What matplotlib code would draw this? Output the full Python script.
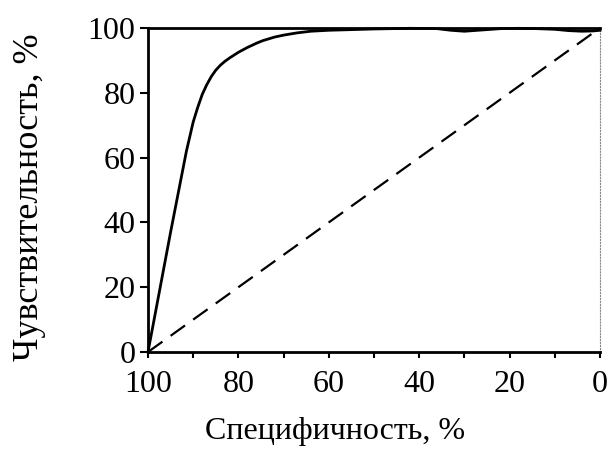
import matplotlib
matplotlib.use("Agg")
import matplotlib.pyplot as plt
from matplotlib.ticker import MultipleLocator

# ROC curve data (specificity %, sensitivity %)
specificity = [100, 95, 91.5, 90, 89, 88, 87, 86, 85, 84, 83, 81.9, 80, 78, 76, 74.6, 72,
               70, 67, 64, 60, 55, 50, 42, 36, 33, 30, 27, 22, 18, 14, 10, 7, 4, 1.5, 0]
sensitivity = [0, 37, 62, 71, 75.5, 79.5, 82.5, 85, 87, 88.5, 89.7, 90.8, 92.5, 94, 95.3, 96.1, 97.2,
               97.8, 98.5, 99.0, 99.3, 99.5, 99.7, 99.9, 99.8, 99.3, 99.0, 99.3, 99.8, 99.9, 99.8,
               99.6, 99.2, 99.0, 99.1, 99.3]
diag_x = [100, 0]
diag_y = [0, 100]
xticks = [100, 80, 60, 40, 20, 0]
yticks = [0, 20, 40, 60, 80, 100]

plt.rcParams['font.family'] = ['Liberation Serif', 'DejaVu Serif']

fig = plt.figure(figsize=(6.14, 4.51), dpi=100)
ax = fig.add_axes([148/614, 1-352/451, (600-148)/614, (352-28)/451])

ax.plot(specificity, sensitivity, color='black', lw=2.0, solid_joinstyle='round', clip_on=False, zorder=3)
ax.plot(diag_x, diag_y, color='black', lw=1.6, dashes=(8, 4.5), clip_on=False)

ax.set_xlim(100, 0)
ax.set_ylim(0, 100)
ax.set_xticks(xticks)
ax.set_yticks(yticks)
ax.xaxis.set_minor_locator(MultipleLocator(10))
ax.tick_params(axis='x', which='both', direction='out', length=4, width=1.5, labelsize=23, pad=9)
ax.tick_params(axis='y', which='both', direction='out', length=6, width=1.5, labelsize=23, pad=3)

for s in ['left', 'bottom', 'top']:
    ax.spines[s].set_linewidth(2.0)
ax.spines['right'].set_linewidth(0.8)
ax.spines['right'].set_linestyle(':')
ax.spines['right'].set_color('#888888')

ax.set_xlabel('Специфичность, %', fontsize=23)
ax.set_ylabel('Чувствительность, %', fontsize=26)
ax.xaxis.set_label_coords((335-148)/452, -(432-352)/324, transform=ax.transAxes)
ax.xaxis.label.set_va('center')
ax.yaxis.set_label_coords(-(148-30)/452, (352-197)/324, transform=ax.transAxes)
ax.yaxis.label.set_va('center')

fig.savefig('out.png', dpi=100)
